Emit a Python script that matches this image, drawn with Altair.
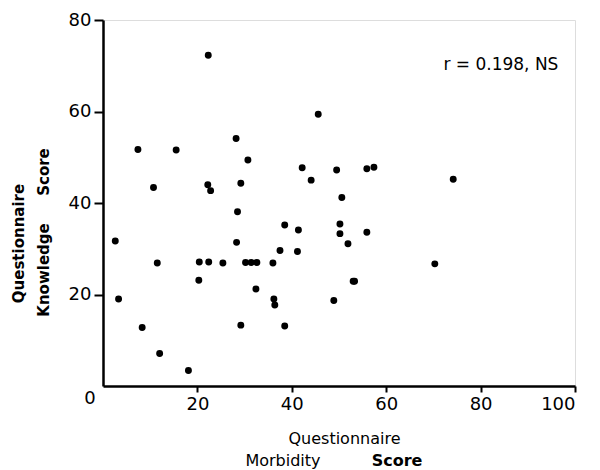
import altair as alt
import pandas as pd

morbidity = [22.3, 28.2, 7.4, 15.5, 30.7, 10.7, 22.2, 22.8, 29.2, 28.5,
             45.6, 42.2, 44.1, 49.5, 55.9, 57.4, 50.6, 74.2, 2.6, 28.3,
             11.5, 20.4, 22.4, 25.4, 30.2, 31.4, 32.6, 20.3, 32.4, 3.3,
             8.3, 29.2, 12.0, 18.1, 38.5, 41.4, 50.2, 50.2, 55.9, 51.9,
             37.5, 41.2, 36.0, 53.0, 53.3, 36.2, 36.4, 48.9, 38.5, 70.3]
knowledge = [72.3, 54.1, 51.7, 51.6, 49.4, 43.4, 44.0, 42.7, 44.3, 38.1,
             59.4, 47.7, 45.0, 47.2, 47.5, 47.8, 41.2, 45.2, 31.7, 31.4,
             26.9, 27.1, 27.1, 26.9, 27.0, 27.0, 27.0, 23.1, 21.2, 19.0,
             12.8, 13.3, 7.1, 3.4, 35.2, 34.1, 35.4, 33.3, 33.6, 31.1,
             29.6, 29.4, 26.9, 22.9, 22.9, 19.0, 17.7, 18.7, 13.1, 26.7]

x_ticks = [20, 40, 60, 80, 100]
y_ticks = [20, 40, 60, 80]
annotation = "r = 0.198, NS"

df = pd.DataFrame({"m": morbidity, "k": knowledge})

FONT = "DejaVu Sans"
W, H = 472, 366

xs = alt.Scale(domain=[0, 100], nice=False, zero=True)
ys = alt.Scale(domain=[0, 80], nice=False, zero=True)

points = alt.Chart(df).mark_circle(color="black", opacity=1, size=48).encode(
    x=alt.X("m:Q", scale=xs,
            axis=alt.Axis(values=x_ticks, title=None, grid=False,
                          domainColor="black", domainWidth=2.5,
                          tickColor="black", tickWidth=2, tickSize=6,
                          labelFont=FONT, labelFontSize=18, labelColor="black",
                          labelPadding=3)),
    y=alt.Y("k:Q", scale=ys,
            axis=alt.Axis(values=y_ticks, title=None, grid=False,
                          domainColor="black", domainWidth=2.5,
                          tickColor="black", tickWidth=2, tickSize=9,
                          labelFont=FONT, labelFontSize=18, labelColor="black",
                          labelPadding=3)),
)

zero_df = pd.DataFrame({"m": [0], "k": [0], "t": ["0"]})
zero_label = alt.Chart(zero_df).mark_text(
    font=FONT, fontSize=18, color="black", dx=-13, dy=13,
    align="center", baseline="middle").encode(
    x=alt.X("m:Q", scale=xs), y=alt.Y("k:Q", scale=ys), text="t:N")

ann_df = pd.DataFrame({"m": [84.3], "k": [70.2], "t": [annotation]})
ann = alt.Chart(ann_df).mark_text(
    font=FONT, fontSize=17, color="black", align="center",
    baseline="middle").encode(
    x=alt.X("m:Q", scale=xs), y=alt.Y("k:Q", scale=ys), text="t:N")


def label(txt, px, py, bold=False, angle=0, size=16):
    return alt.Chart(pd.DataFrame({"t": [txt]})).mark_text(
        font=FONT, fontSize=size, color="black",
        fontWeight="bold" if bold else "normal",
        align="center", baseline="middle", angle=angle).encode(
        x=alt.value(px - 103), y=alt.value(py - 20), text="t:N")


titles = [
    label("Questionnaire", 19, 243.5, bold=True, angle=270, size=15),
    label("Knowledge", 44, 270, bold=True, angle=270, size=15),
    label("Score", 44, 172, bold=True, angle=270, size=15),
    label("Questionnaire", 344.5, 439),
    label("Morbidity", 283, 461),
    label("Score", 397, 461, bold=True),
]

chart = alt.layer(points, zero_label, ann, *titles).properties(
    width=W, height=H,
    autosize=alt.AutoSizeParams(type="none"),
    padding={"left": 95, "top": 12, "right": 17, "bottom": 84},
).configure_view(stroke=None).configure(background="white")

chart.save("out.html", embed_options={"renderer": "svg", "actions": False})
